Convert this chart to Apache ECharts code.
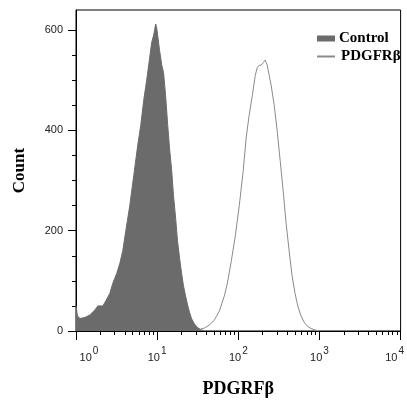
<!DOCTYPE html>
<html><head><meta charset="utf-8">
<script src="https://cdn.jsdelivr.net/npm/echarts@6/dist/echarts.min.js"></script>
<style>html,body{margin:0;padding:0;background:#fff}#c{width:407px;height:403px}</style>
</head><body><div id="c"></div>
<script>
// Control histogram (fluorescence value, count)
const controlX = [1, 1.043, 1.12, 1.29, 1.48, 1.71, 1.86, 2.14, 2.33, 2.61, 2.84, 3.18, 3.47, 3.77, 4.11, 4.60, 5.15, 5.76, 6.28, 6.83, 7.43, 8.09, 8.56, 9.06, 9.31, 9.59, 9.86, 10.14, 10.7, 11.4, 12.0, 12.7, 13.5, 14.2, 15.1, 15.9, 16.9, 17.8, 18.9, 20.0, 21.1, 22.4, 23.7, 25.0, 26.5, 28.8, 31.4, 34.2, 38.3];
const controlCount = [50, 30, 25, 27, 32, 42, 50, 50, 60, 75, 95, 115, 135, 160, 200, 250, 310, 370, 410, 460, 500, 545, 575, 590, 600, 612, 605, 590, 560, 530, 515, 470, 410, 365, 320, 270, 225, 180, 145, 115, 90, 70, 52, 38, 25, 14, 7, 3, 0];
// PDGFRβ histogram
const pdgfrX = [33.2, 38.3, 44.1, 50.8, 58.5, 67.3, 73.3, 82.1, 91.9, 102.8, 115, 125, 136, 149, 162, 171, 181, 192, 203, 214, 227, 240, 254, 277, 301, 328, 357, 388, 423, 460, 500, 545, 593, 645, 703, 787, 881, 986];
const pdgfrCount = [3, 6, 12, 22, 40, 70, 95, 140, 190, 250, 320, 385, 430, 470, 510, 525, 530, 530, 535, 540, 530, 510, 490, 450, 400, 340, 280, 215, 160, 110, 75, 48, 30, 18, 10, 5, 2, 0];
// Axis ticks
const xMajorTicks = [1, 10, 100, 1000, 10000];
const xMinorTicks = [2, 3, 4, 5, 6, 7, 8, 9, 20, 30, 40, 50, 60, 70, 80, 90, 200, 300, 400, 500, 600, 700, 800, 900, 2000, 3000, 4000, 5000, 6000, 7000, 8000, 9000];
const yMajorTicks = [0, 200, 400, 600];
const yMinorTicks = [50, 100, 150, 250, 300, 350, 450, 500, 550];
const seriesNames = ['Control', 'PDGFRβ'];
const xTitle = 'PDGRFβ';
const yTitle = 'Count';

const chart = echarts.init(document.getElementById('c'), null, {renderer: 'canvas'});
const serif = '"Liberation Serif", "Times New Roman", serif';
const sans = '"Liberation Sans", Arial, sans-serif';
const axisCommon = {
  min: 1, max: 10000, logBase: 10, type: 'log',
  splitLine: {show: false}, minorTick: {show: false}
};
chart.setOption({
  backgroundColor: '#fff',
  animation: false,
  grid: {left: 76, right: 5, top: 10, bottom: 66, show: true, borderColor: '#000', borderWidth: 1, backgroundColor: 'transparent'},
  legend: [{
    data: [{name: seriesNames[0], icon: 'rect'}],
    left: 312, top: 26, itemWidth: 18, itemHeight: 6, itemGap: 4,
    textStyle: {fontFamily: serif, fontWeight: 'bold', fontSize: 15, color: '#000', padding: [0,0,0,-1]}
  }, {
    data: [{name: seriesNames[1], icon: 'rect'}],
    left: 312, top: 44, itemWidth: 18, itemHeight: 2, itemGap: 4,
    textStyle: {fontFamily: serif, fontWeight: 'bold', fontSize: 15, color: '#000', padding: [0,0,0,1]}
  }],
  xAxis: [Object.assign({}, axisCommon, {
    position: 'bottom',
    name: xTitle, nameLocation: 'middle', nameGap: 49,
    nameTextStyle: {fontFamily: serif, fontWeight: 'bold', fontSize: 18, color: '#000'},
    axisLine: {lineStyle: {color: '#000', width: 1}},
    axisTick: {show: true, length: 9, inside: false, customValues: xMajorTicks, lineStyle: {color: '#000'}},
    axisLabel: {
      customValues: xMajorTicks, margin: 15,
      formatter: function (v) {
        const e = Math.round(Math.log10(v));
        const st = e === 0 ? 'f' : 'n';
        const ss = e === 4 ? 'sl' : 's';
        return '{' + st + '|10}{' + ss + '|' + e + '}';
      },
      rich: {
        n: {fontFamily: sans, fontSize: 11, color: '#222', lineHeight: 17, verticalAlign: 'bottom'},
        f: {fontFamily: sans, fontSize: 11, color: '#222', lineHeight: 17, verticalAlign: 'bottom', padding: [0, 0, 0, 26]},
        s: {fontFamily: sans, fontSize: 10, color: '#222', verticalAlign: 'top', padding: [0, 0, 0, 1]},
        sl: {fontFamily: sans, fontSize: 10, color: '#222', verticalAlign: 'top', padding: [0, 12, 0, 1]}
      }
    }
  }), Object.assign({}, axisCommon, {
    position: 'bottom',
    axisLine: {show: false},
    axisTick: {show: true, length: 4, inside: false, customValues: xMinorTicks, lineStyle: {color: '#000'}},
    axisLabel: {show: false}
  })],
  yAxis: [{
    type: 'value', min: 0, max: 640, position: 'left',
    name: yTitle, nameLocation: 'middle', nameGap: 48, nameRotate: 90,
    nameTextStyle: {fontFamily: serif, fontWeight: 'bold', fontSize: 17, color: '#000'},
    splitLine: {show: false},
    axisLine: {show: true, lineStyle: {color: '#000', width: 1}},
    axisTick: {show: true, length: 8, inside: false, customValues: yMajorTicks, lineStyle: {color: '#000'}},
    axisLabel: {customValues: yMajorTicks, margin: 13, fontFamily: sans, fontSize: 11, color: '#222'}
  }, {
    type: 'value', min: 0, max: 640, position: 'left',
    splitLine: {show: false},
    axisLine: {show: false},
    axisTick: {show: true, length: 4, inside: false, customValues: yMinorTicks, lineStyle: {color: '#000'}},
    axisLabel: {show: false}
  }],
  series: [{
    name: seriesNames[0], type: 'line', xAxisIndex: 0, yAxisIndex: 0,
    data: controlX.map((x, i) => [x, controlCount[i]]),
    showSymbol: false, symbol: 'none',
    itemStyle: {color: '#6b6b6b'},
    lineStyle: {color: '#6b6b6b', width: 1},
    areaStyle: {color: '#6b6b6b', opacity: 1, origin: 'start'},
    z: 2
  }, {
    name: seriesNames[1], type: 'line', xAxisIndex: 0, yAxisIndex: 0,
    data: pdgfrX.map((x, i) => [x, pdgfrCount[i]]),
    showSymbol: false, symbol: 'none',
    itemStyle: {color: '#8a8a8a'},
    lineStyle: {color: '#8a8a8a', width: 1},
    z: 3
  }]
});
</script>
</body></html>
